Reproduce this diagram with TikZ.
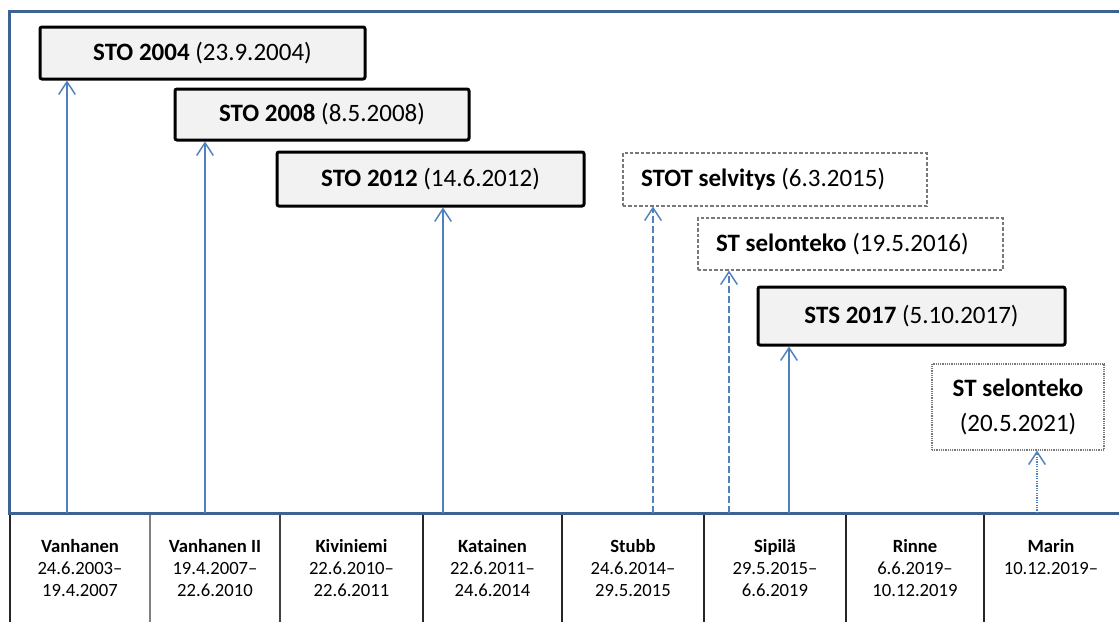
\documentclass[tikz,border=0pt]{standalone}
\usepackage{fontspec}
\setmainfont{Carlito}
\usetikzlibrary{arrows.meta}
\definecolor{framecol}{RGB}{62,98,146}
\definecolor{arrowcol}{RGB}{79,129,189}
\definecolor{boxfill}{RGB}{242,242,242}
\definecolor{dashgray}{RGB}{120,120,120}
\begin{document}
\begin{tikzpicture}[x=0.75pt,y=-0.75pt,
  docbox/.style={draw=black,line width=2.25pt,fill=boxfill,rounded corners=1.5pt,
    font=\fontsize{18.75}{22}\selectfont,inner sep=0pt},
  looseboxl/.style={draw=dashgray,line width=0.8pt,dash pattern=on 2.6pt off 1.5pt,
    font=\fontsize{18.75}{22}\selectfont,inner xsep=13.5pt,inner ysep=0pt},
  looseboxc/.style={draw=dashgray,line width=0.8pt,dash pattern=on 0.75pt off 0.6pt,
    font=\fontsize{18.75}{26.25}\selectfont,inner sep=0pt,align=center},
  arr/.style={draw=arrowcol,line width=1.1pt,-{Straight Barb[length=9.5pt,width=12.5pt]}},
  dasharr/.style={arr,dash pattern=on 5pt off 2.5pt},
  dotarr/.style={arr,dash pattern=on 0.9pt off 0.9pt},
  frame/.style={draw=framecol,line width=2.25pt},
  cellline/.style={draw=black!80,line width=0.8pt},
  celltext/.style={anchor=north,align=center,inner sep=0pt,
    font=\fontsize{14}{16.4}\selectfont}]
\useasboundingbox (0,0) rectangle (1119,621);
\clip (0,0) rectangle (1119,621);

% outer frame of the timeline
\draw[frame] (9.5,11) rectangle (1135,513);

% government terms along the bottom
\foreach \x/\c in {10/black!85,150/black!50,280/black!75,423/black!85,562/black!85,704/black!85,846/black!85,984/black!85}
  \draw[cellline,draw=\c] (\x,514.5) -- (\x,630);

\node[celltext] (t1) at (80,539.5)   {\textbf{Vanhanen}\\24.6.2003–\\19.4.2007};
\node[celltext] (t2) at (215,539.5)  {\textbf{Vanhanen II}\\19.4.2007–\\22.6.2010};
\node[celltext] (t3) at (351.5,539.5){\textbf{Kiviniemi}\\22.6.2010–\\22.6.2011};
\node[celltext] (t4) at (492.5,539.5){\textbf{Katainen}\\22.6.2011–\\24.6.2014};
\node[celltext] (t5) at (633,539.5)  {\textbf{Stubb}\\24.6.2014–\\29.5.2015};
\node[celltext] (t6) at (775,539.5)  {\textbf{Sipilä}\\29.5.2015–\\6.6.2019};
\node[celltext] (t7) at (915,539.5)  {\textbf{Rinne}\\6.6.2019–\\10.12.2019};
\node[celltext] (t8) at (1051,539.5) {\textbf{Marin}\\10.12.2019–};

% reports
\node[docbox,minimum width=243.75pt,minimum height=39pt] (b1) at (202.5,53)
  {\textbf{STO 2004} (23.9.2004)};
\node[docbox,minimum width=220.5pt,minimum height=38.25pt] (b2) at (322,114.5)
  {\textbf{STO 2008} (8.5.2008)};
\node[docbox,minimum width=230.25pt,minimum height=40.5pt] (b3) at (430.5,179)
  {\textbf{STO 2012} (14.6.2012)};
\node[looseboxl,minimum height=39.75pt] (b4) at (775,179.5)
  {\makebox[201pt][l]{\textbf{STOT selvitys} (6.3.2015)}};
\node[looseboxl,minimum height=39pt] (b5) at (850.5,244)
  {\makebox[201.75pt][l]{\textbf{ST selonteko} (19.5.2016)}};
\node[docbox,minimum width=230.25pt,minimum height=43.5pt] (b6) at (911.5,316)
  {\textbf{STS 2017} (5.10.2017)};
\node[looseboxc,minimum width=129pt,minimum height=64.5pt] (b7) at (1018,407)
  {\textbf{ST selonteko}\\(20.5.2021)};

% arrows from the timeline base
\coordinate (a1) at (67,513);
\coordinate (a2) at (205,513);
\coordinate (a3) at (443,513);
\coordinate (a4) at (653,513);
\coordinate (a5) at (729,513);
\coordinate (a6) at (789,513);
\coordinate (a7) at (1037,513);

\draw[arr] (a1) -- (a1 |- b1.south);
\draw[arr] (a2) -- (a2 |- b2.south);
\draw[arr] (a3) -- (a3 |- b3.south);
\draw[dasharr] (a4) -- (a4 |- b4.south);
\draw[dasharr] (a5) -- (a5 |- b5.south);
\draw[arr] (a6) -- (a6 |- b6.south);
\draw[dotarr] (a7) -- (a7 |- b7.south);
\end{tikzpicture}
\end{document}
